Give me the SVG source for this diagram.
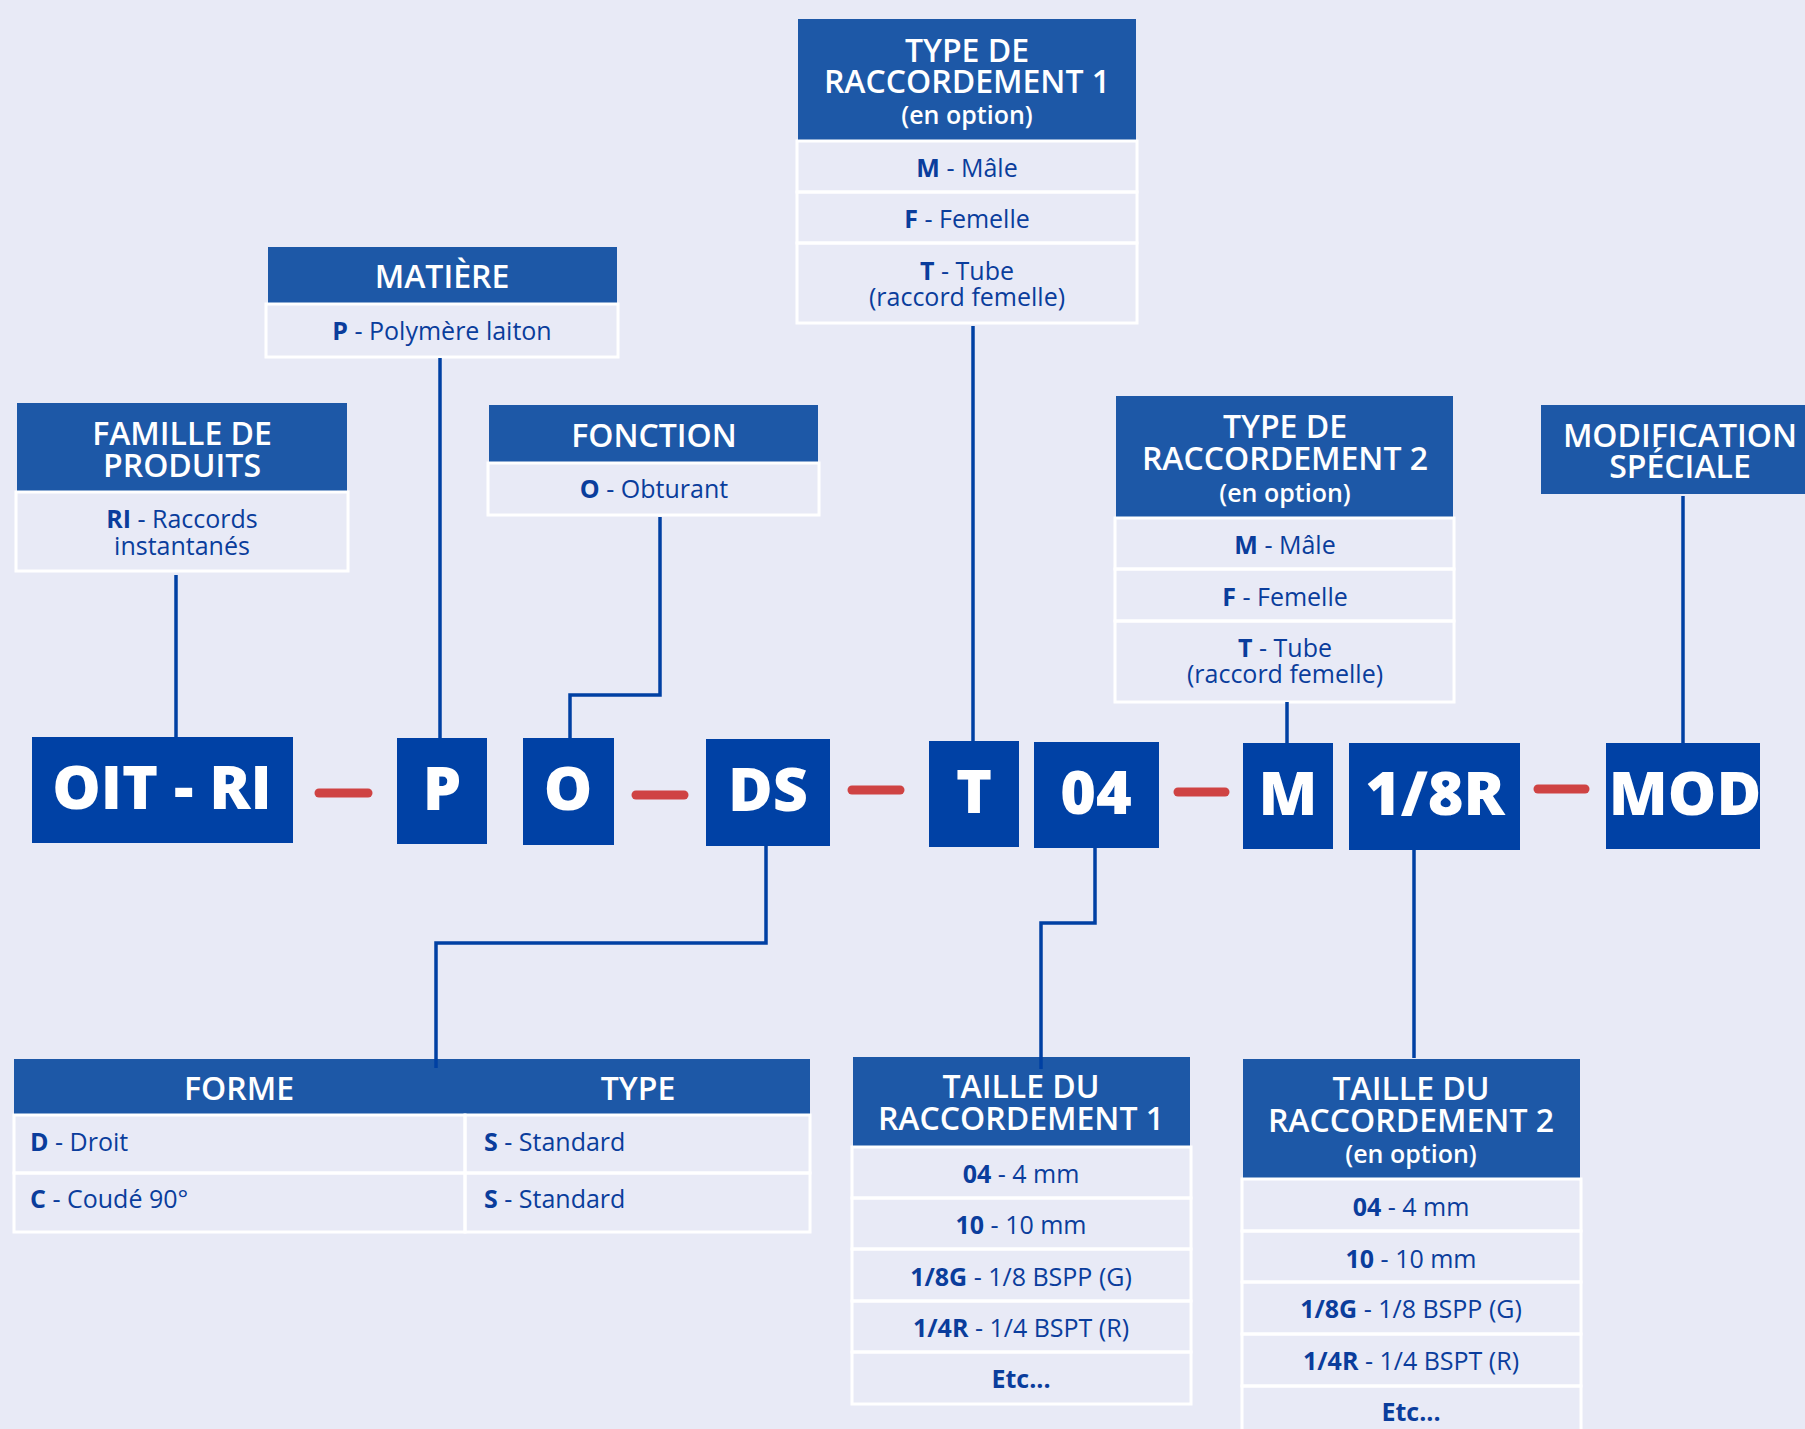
<svg xmlns="http://www.w3.org/2000/svg" width="1805" height="1429" viewBox="0 0 1805 1429">
<style>
.hd{fill:#1d58a7}
.cell{fill:none;stroke:#ffffff;stroke-width:3}
.code{fill:#0041a5}
.ht{font-family:"Open Sans","Noto Sans",sans-serif;font-weight:600;font-size:32px;fill:#ffffff;text-anchor:middle}
.hs{font-size:25px}
.bt{font-family:"Open Sans","Noto Sans",sans-serif;font-weight:400;font-size:25px;fill:#0a3d9c;text-anchor:middle}
.bl{text-anchor:start}
.b{font-weight:700}
.ct{font-family:"Open Sans","Noto Sans",sans-serif;font-weight:800;font-size:61px;fill:#ffffff;text-anchor:middle}
.dash{stroke:#cf4343;stroke-width:9;stroke-linecap:round}
.con{fill:none;stroke:#0040a3;stroke-width:3.5}
</style>
<rect x="0" y="0" width="1805" height="1429" fill="#e8eaf6"/>

<g id="famille">
<rect class="hd" x="17" y="403" width="330" height="88"/>
<rect class="cell" x="16" y="492" width="332" height="79"/>
<text class="ht" x="182" y="445">FAMILLE DE<tspan x="182" dy="32">PRODUITS</tspan></text>
<text class="bt" x="182" y="528"><tspan class="b">RI</tspan> - Raccords<tspan x="182" dy="27">instantanés</tspan></text>
</g>

<g id="matiere">
<rect class="hd" x="268" y="247" width="349" height="56"/>
<rect class="cell" x="266" y="304" width="352" height="53"/>
<text class="ht" x="442" y="288">MATIÈRE</text>
<text class="bt" x="442" y="340"><tspan class="b">P</tspan> - Polymère laiton</text>
</g>

<g id="fonction">
<rect class="hd" x="489" y="405" width="329" height="57"/>
<rect class="cell" x="488" y="463" width="331" height="52"/>
<text class="ht" x="654" y="447">FONCTION</text>
<text class="bt" x="654" y="498"><tspan class="b">O</tspan> - Obturant</text>
</g>

<g id="type1">
<rect class="hd" x="798" y="19" width="338" height="121"/>
<rect class="cell" x="797" y="141" width="340" height="51"/>
<rect class="cell" x="797" y="192" width="340" height="51"/>
<rect class="cell" x="797" y="243" width="340" height="80"/>
<text class="ht" x="967" y="62">TYPE DE<tspan x="967" dy="31">RACCORDEMENT 1</tspan><tspan class="hs" x="967" dy="31">(en option)</tspan></text>
<text class="bt" x="967" y="177"><tspan class="b">M</tspan> - Mâle</text>
<text class="bt" x="967" y="228"><tspan class="b">F</tspan> - Femelle</text>
<text class="bt" x="967" y="280"><tspan class="b">T</tspan> - Tube<tspan x="967" dy="26">(raccord femelle)</tspan></text>
</g>

<g id="type2">
<rect class="hd" x="1116" y="396" width="337" height="121"/>
<rect class="cell" x="1115" y="518" width="339" height="51"/>
<rect class="cell" x="1115" y="569" width="339" height="52"/>
<rect class="cell" x="1115" y="621" width="339" height="81"/>
<text class="ht" x="1285" y="438">TYPE DE<tspan x="1285" dy="32">RACCORDEMENT 2</tspan><tspan class="hs" x="1285" dy="32">(en option)</tspan></text>
<text class="bt" x="1285" y="554"><tspan class="b">M</tspan> - Mâle</text>
<text class="bt" x="1285" y="606"><tspan class="b">F</tspan> - Femelle</text>
<text class="bt" x="1285" y="657"><tspan class="b">T</tspan> - Tube<tspan x="1285" dy="26">(raccord femelle)</tspan></text>
</g>

<g id="modification">
<rect class="hd" x="1541" y="405" width="300" height="89"/>
<text class="ht" x="1680" y="447">MODIFICATION<tspan x="1680" dy="31">SPÉCIALE</tspan></text>
</g>

<g id="forme-type">
<rect class="hd" x="14" y="1059" width="796" height="55"/>
<rect class="cell" x="14" y="1115" width="451" height="58"/>
<rect class="cell" x="465" y="1115" width="345" height="58"/>
<rect class="cell" x="14" y="1173" width="451" height="59"/>
<rect class="cell" x="465" y="1173" width="345" height="59"/>
<text class="ht" x="239" y="1100">FORME</text>
<text class="ht" x="638" y="1100">TYPE</text>
<text class="bt bl" x="30" y="1151"><tspan class="b">D</tspan> - Droit</text>
<text class="bt bl" x="30" y="1208"><tspan class="b">C</tspan> - Coudé 90°</text>
<text class="bt bl" x="484" y="1151"><tspan class="b">S</tspan> - Standard</text>
<text class="bt bl" x="484" y="1208"><tspan class="b">S</tspan> - Standard</text>
</g>

<g id="taille1">
<rect class="hd" x="853" y="1057" width="337" height="89"/>
<rect class="cell" x="852" y="1147" width="339" height="51"/>
<rect class="cell" x="852" y="1198" width="339" height="51"/>
<rect class="cell" x="852" y="1249" width="339" height="52"/>
<rect class="cell" x="852" y="1301" width="339" height="51"/>
<rect class="cell" x="852" y="1352" width="339" height="52"/>
<text class="ht" x="1021" y="1098">TAILLE DU<tspan x="1021" dy="32">RACCORDEMENT 1</tspan></text>
<text class="bt" x="1021" y="1183"><tspan class="b">04</tspan> - 4 mm</text>
<text class="bt" x="1021" y="1234"><tspan class="b">10</tspan> - 10 mm</text>
<text class="bt" x="1021" y="1286"><tspan class="b">1/8G</tspan> - 1/8 BSPP (G)</text>
<text class="bt" x="1021" y="1337"><tspan class="b">1/4R</tspan> - 1/4 BSPT (R)</text>
<text class="bt b" x="1021" y="1388">Etc...</text>
</g>

<g id="taille2">
<rect class="hd" x="1243" y="1059" width="337" height="119"/>
<rect class="cell" x="1242" y="1179" width="339" height="52"/>
<rect class="cell" x="1242" y="1231" width="339" height="51"/>
<rect class="cell" x="1242" y="1282" width="339" height="52"/>
<rect class="cell" x="1242" y="1334" width="339" height="52"/>
<rect class="cell" x="1242" y="1386" width="339" height="60"/>
<text class="ht" x="1411" y="1100">TAILLE DU<tspan x="1411" dy="32">RACCORDEMENT 2</tspan><tspan class="hs" x="1411" dy="31">(en option)</tspan></text>
<text class="bt" x="1411" y="1216"><tspan class="b">04</tspan> - 4 mm</text>
<text class="bt" x="1411" y="1268"><tspan class="b">10</tspan> - 10 mm</text>
<text class="bt" x="1411" y="1318"><tspan class="b">1/8G</tspan> - 1/8 BSPP (G)</text>
<text class="bt" x="1411" y="1370"><tspan class="b">1/4R</tspan> - 1/4 BSPT (R)</text>
<text class="bt b" x="1411" y="1421">Etc...</text>
</g>

<g id="code-oitri"><rect class="code" x="32" y="737" width="261" height="106"/><text class="ct" x="162" y="809">OIT - RI</text></g>
<g id="code-p"><rect class="code" x="397" y="738" width="90" height="106"/><text class="ct" x="442" y="810">P</text></g>
<g id="code-o"><rect class="code" x="523" y="738" width="91" height="107"/><text class="ct" x="568" y="810">O</text></g>
<g id="code-ds"><rect class="code" x="706" y="739" width="124" height="107"/><text class="ct" x="768" y="811">DS</text></g>
<g id="code-t"><rect class="code" x="929" y="741" width="90" height="106"/><text class="ct" x="974" y="813">T</text></g>
<g id="code-04"><rect class="code" x="1034" y="742" width="125" height="106"/><text class="ct" x="1096" y="814">04</text></g>
<g id="code-m"><rect class="code" x="1243" y="743" width="90" height="106"/><text class="ct" x="1288" y="815">M</text></g>
<g id="code-18r"><rect class="code" x="1349" y="743" width="171" height="107"/><text class="ct" x="1435" y="815">1/8R</text></g>
<g id="code-mod"><rect class="code" x="1606" y="743" width="154" height="106"/><text class="ct" x="1685" y="815">MOD</text></g>

<g id="connectors">
<line class="dash" x1="319" y1="793" x2="368" y2="793"/>
<line class="dash" x1="636" y1="795" x2="684" y2="795"/>
<line class="dash" x1="852" y1="790" x2="900" y2="790"/>
<line class="dash" x1="1178" y1="792" x2="1225" y2="792"/>
<line class="dash" x1="1538" y1="789" x2="1585" y2="789"/>
<path class="con" d="M176,575 V737"/>
<path class="con" d="M440,358 V738"/>
<path class="con" d="M660,517 V695 H570 V738"/>
<path class="con" d="M973,326 V741"/>
<path class="con" d="M1287,702 V743"/>
<path class="con" d="M1683,496 V743"/>
<path class="con" d="M766,846 V943 H436 V1068"/>
<path class="con" d="M1095,848 V923 H1041 V1069"/>
<path class="con" d="M1414,850 V1058"/>
</g>
</svg>
